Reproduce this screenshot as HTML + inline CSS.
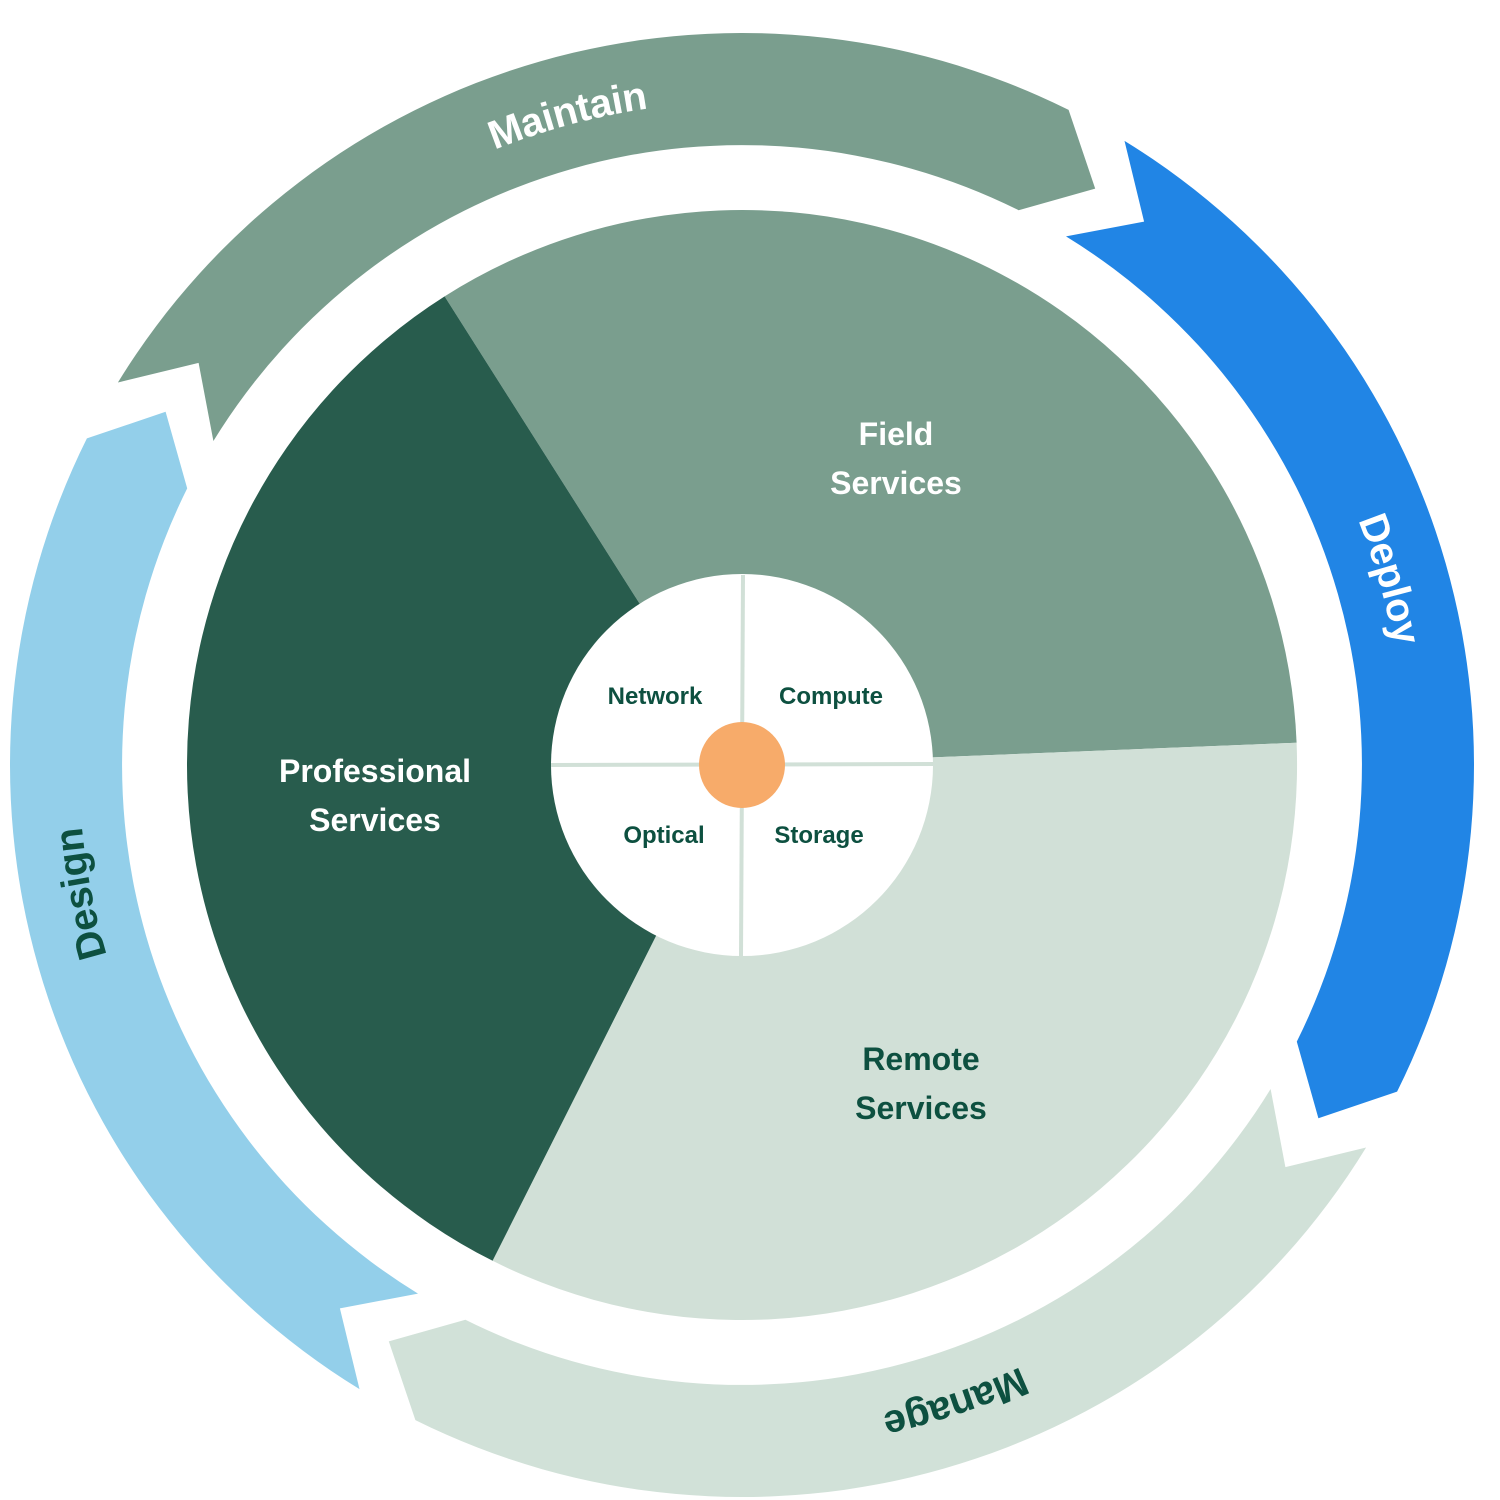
<!DOCTYPE html>
<html><head><meta charset="utf-8"><style>
html,body{margin:0;padding:0;background:#fff;}
svg{display:block;}
text{font-family:"Liberation Sans",sans-serif;font-weight:bold;}
</style></head><body>
<svg width="1500" height="1500" viewBox="0 0 1500 1500" xmlns="http://www.w3.org/2000/svg">
<defs>
<path id="tMaintain" d="M188.2,377.2 A676,676 0 0 1 1027.7,152.3"/>
<path id="tDeploy" d="M1120.0,204.6 A676,676 0 0 1 1359.5,1039.9"/>
<path id="tManage" d="M1285.4,1167.1 A676,676 0 0 1 550.0,1413.1"/>
<path id="tDesign" d="M272.4,1251.3 A676,676 0 0 1 124.5,490.1"/>
</defs>
<path fill="#d1e1d8" d="M1366.1,1147.5 A732,732 0 0 1 415.4,1420.1 L388.8,1341.4 L465.4,1319.8 A620,620 0 0 0 1270.6,1089.0 L1285.4,1167.1 Z"/>
<path fill="#93cfea" d="M359.5,1389.1 A732,732 0 0 1 86.9,438.4 L165.6,411.8 L187.2,488.4 A620,620 0 0 0 418.0,1293.6 L339.9,1308.4 Z"/>
<path fill="#7a9e8e" d="M117.9,382.5 A732,732 0 0 1 1068.6,109.9 L1095.2,188.6 L1018.6,210.2 A620,620 0 0 0 213.4,441.0 L198.6,362.9 Z"/>
<path fill="#2185e5" d="M1124.5,140.9 A732,732 0 0 1 1397.1,1091.6 L1318.4,1118.2 L1296.8,1041.6 A620,620 0 0 0 1066.0,236.4 L1144.1,221.6 Z"/>
<g font-size="40">
<text fill="#fff" dominant-baseline="central"><textPath href="#tMaintain" startOffset="50%" text-anchor="middle">Maintain</textPath></text>
<text fill="#fff" dominant-baseline="central"><textPath href="#tDeploy" startOffset="50%" text-anchor="middle">Deploy</textPath></text>
<text fill="#0d5040" dominant-baseline="central"><textPath href="#tManage" startOffset="50%" text-anchor="middle">Manage</textPath></text>
<text fill="#0d5040" dominant-baseline="central"><textPath href="#tDesign" startOffset="50%" text-anchor="middle">Design</textPath></text>
</g>
<path fill="#7a9e8e" d="M742,765 L444.6,296.4 A555,555 0 0 1 1296.6,742.7 Z"/>
<path fill="#d1e0d7" d="M742,765 L1296.6,742.7 A555,555 0 0 1 492.6,1260.8 Z"/>
<path fill="#285c4d" d="M742,765 L492.6,1260.8 A555,555 0 0 1 444.6,296.4 Z"/>
<g font-size="32" text-anchor="middle">
<text fill="#fff" x="896" y="445">Field</text>
<text fill="#fff" x="896" y="494">Services</text>
<text fill="#fff" x="375" y="782">Professional</text>
<text fill="#fff" x="375" y="831">Services</text>
<text fill="#0d5040" x="921" y="1070">Remote</text>
<text fill="#0d5040" x="921" y="1119">Services</text>
</g>
<circle cx="742" cy="765" r="191" fill="#fff"/>
<line x1="743" y1="575" x2="741" y2="956" stroke="#d1e0d7" stroke-width="4"/>
<line x1="551" y1="765" x2="933" y2="764" stroke="#d1e0d7" stroke-width="4"/>
<circle cx="742" cy="765" r="43" fill="#f7ab6a"/>
<g font-size="24" fill="#0d5040" text-anchor="middle">
<text x="655" y="704">Network</text>
<text x="831" y="704">Compute</text>
<text x="664" y="843">Optical</text>
<text x="819" y="843">Storage</text>
</g>
</svg>
</body></html>
